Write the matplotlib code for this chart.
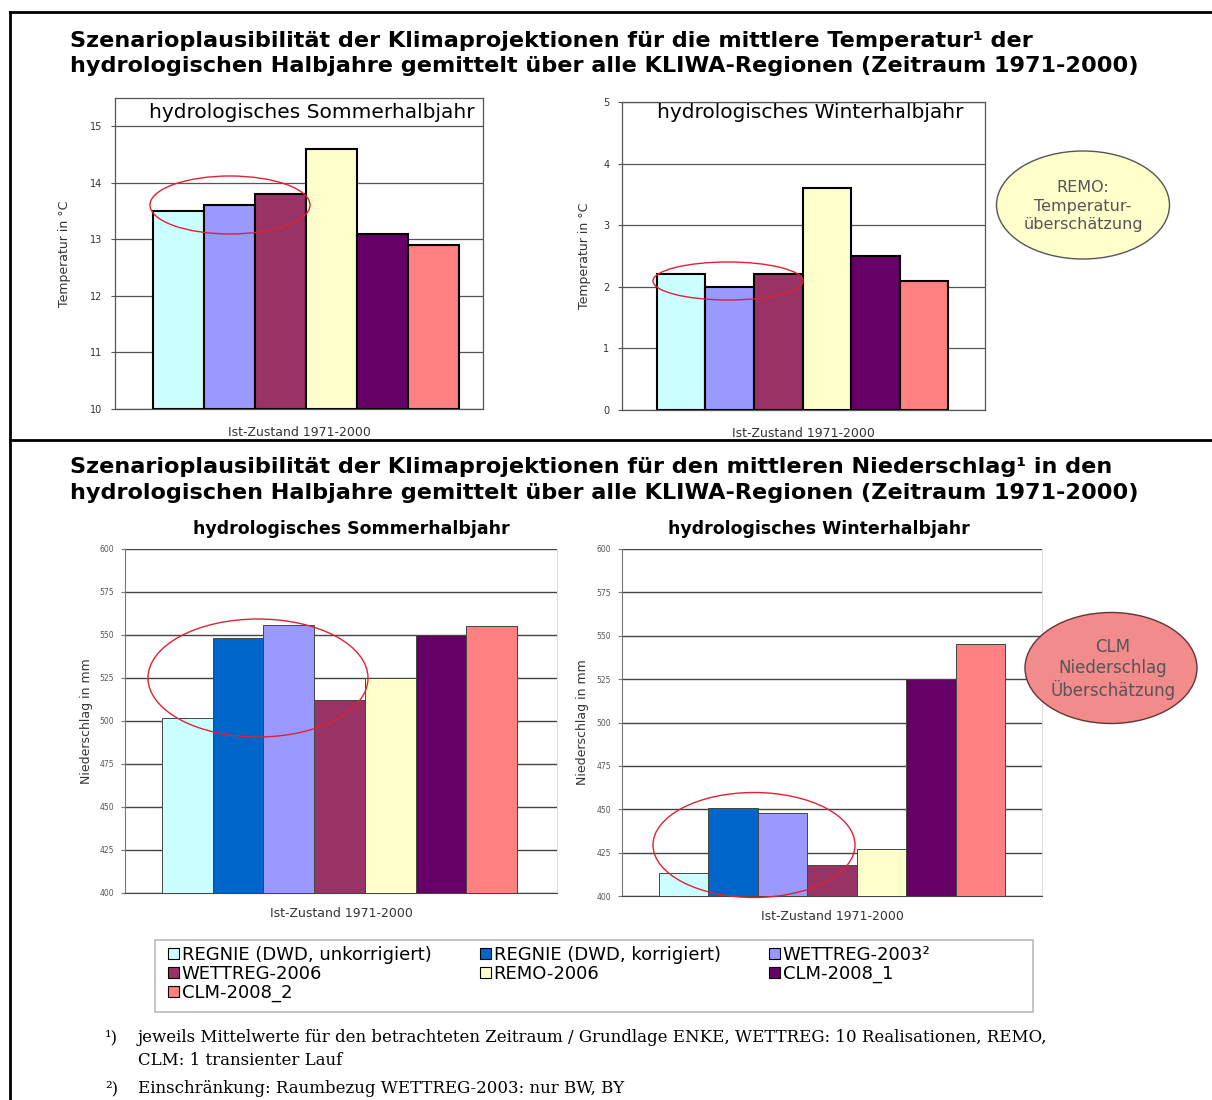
import matplotlib
matplotlib.use("Agg")
import matplotlib.pyplot as plt
from matplotlib.patches import Patch, Ellipse, Rectangle
from matplotlib.lines import Line2D

plt.rcParams['font.family'] = ['DejaVu Sans']

# Daten
modelle = ['REGNIE (DWD, unkorrigiert)', 'REGNIE (DWD, korrigiert)', 'WETTREG-2003²',
           'WETTREG-2006', 'REMO-2006', 'CLM-2008_1', 'CLM-2008_2']
farben = ['#CCFFFF', '#0066CC', '#9999FF', '#993366', '#FFFFCC', '#660066', '#FF8080']

# Temperatur: ohne REGNIE korrigiert
temp_idx = [0, 2, 3, 4, 5, 6]
temp_sommer = [13.5, 13.6, 13.8, 14.6, 13.1, 12.9]
temp_winter = [2.2, 2.0, 2.2, 3.6, 2.5, 2.1]

nied_sommer = [502, 548, 556, 512, 525, 550, 555]
nied_winter = [413, 451, 448, 418, 427, 525, 545]

temp_ticks = {'sommer': [10, 11, 12, 13, 14, 15], 'winter': [0, 1, 2, 3, 4, 5]}
nied_ticks = [400, 425, 450, 475, 500, 525, 550, 575, 600]

W, H = 1212, 1100
fig = plt.figure(figsize=(W / 100, H / 100), dpi=100)


def px(x, y):
    return x / W, 1 - y / H


def add_ax(l, t, r, b):
    x0, y1 = px(l, t)
    x1, y0 = px(r, b)
    return fig.add_axes([x0, y0, x1 - x0, y1 - y0])


def temp_chart(ax, werte, yticks, ylim, xlim, titel, titel_pos, ylabel_x):
    cols = [farben[i] for i in temp_idx]
    ax.bar(range(len(werte)), [w - ylim[0] for w in werte], bottom=ylim[0], width=1.0,
           color=cols, edgecolor='black', linewidth=1.5, zorder=3)
    ax.set_ylim(*ylim)
    ax.set_xlim(*xlim)
    ax.set_yticks(yticks)
    ax.set_yticklabels([str(t) for t in yticks], fontsize=7, color='#333333')
    ax.set_xticks([])
    ax.grid(axis='y', color='#555555', linewidth=0.9, zorder=0)
    for s in ax.spines.values():
        s.set_color('#555555')
        s.set_linewidth(0.9)
    ax.tick_params(axis='y', length=3, width=0.8, color='#555555', pad=6)
    ax.set_xlabel('Ist-Zustand 1971-2000', fontsize=9, color='#333333', labelpad=12)
    ax.set_ylabel('Temperatur in °C', fontsize=9, color='#333333')
    ax.yaxis.set_label_coords(ylabel_x, 0.5)
    ax.text(titel_pos[0], titel_pos[1], titel, transform=ax.transAxes, ha='center', va='center',
            fontsize=14.5, color='black', zorder=5)


def nied_chart(ax, werte, xlim, titel, titel_x, ylabel_x):
    ax.bar(range(len(werte)), [w - nied_ticks[0] for w in werte], bottom=nied_ticks[0], width=1.0,
           color=farben, edgecolor='#444444', linewidth=0.7, zorder=3)
    ax.set_ylim(nied_ticks[0], nied_ticks[-1])
    ax.set_xlim(*xlim)
    ax.set_yticks(nied_ticks)
    ax.set_yticklabels([str(t) for t in nied_ticks], fontsize=5.5, color='#555555')
    ax.set_xticks([])
    ax.grid(axis='y', color='#444444', linewidth=1.0, zorder=0)
    ax.spines['top'].set_visible(False)
    ax.spines['right'].set_color('#dddddd')
    ax.spines['left'].set_color('#777777')
    ax.spines['bottom'].set_color('#444444')
    ax.tick_params(axis='y', length=3, width=0.8, color='#777777', pad=5)
    ax.set_xlabel('Ist-Zustand 1971-2000', fontsize=9, color='#333333', labelpad=10)
    ax.set_ylabel('Niederschlag in mm', fontsize=9, color='#333333')
    ax.yaxis.set_label_coords(ylabel_x, 0.5)
    ax.set_title(titel, fontsize=12.5, fontweight='bold', pad=11, x=titel_x)


# obere Diagramme (Temperatur)
ax1 = add_ax(115, 98, 483, 409)
temp_chart(ax1, temp_sommer, temp_ticks['sommer'], (10, 15.5), (-1.25, 5.97),
           'hydrologisches Sommerhalbjahr', (0.535, 0.953), -0.12)
ax2 = add_ax(622, 102, 985, 410)
temp_chart(ax2, temp_winter, temp_ticks['winter'], (0, 5), (-1.22, 6.26),
           'hydrologisches Winterhalbjahr', (0.518, 0.965), -0.085)

# untere Diagramme (Niederschlag)
ax3 = add_ax(125, 549, 557, 893)
nied_chart(ax3, nied_sommer, (-1.23, 7.29), 'hydrologisches Sommerhalbjahr', 0.523, -0.074)
ax4 = add_ax(622, 549, 1042, 896)
nied_chart(ax4, nied_winter, (-1.25, 7.25), 'hydrologisches Winterhalbjahr', 0.469, -0.079)

# Überschriften
titel_temp = ['Szenarioplausibilität der Klimaprojektionen für die mittlere Temperatur¹ der',
              'hydrologischen Halbjahre gemittelt über alle KLIWA-Regionen (Zeitraum 1971-2000)']
titel_nied = ['Szenarioplausibilität der Klimaprojektionen für den mittleren Niederschlag¹ in den',
              'hydrologischen Halbjahre gemittelt über alle KLIWA-Regionen (Zeitraum 1971-2000)']
for i, t in enumerate(titel_temp):
    fig.text(*px(70, 47 + 25 * i), t, fontsize=16.1, fontweight='bold', va='baseline')
for i, t in enumerate(titel_nied):
    fig.text(*px(70, 473 + 26 * i), t, fontsize=16.1, fontweight='bold', va='baseline')

# Rahmen
for xs, ys in [((10, 1212), (12, 12)), ((10, 1212), (440, 440)), ((10, 10), (12, 1100))]:
    p0 = px(xs[0], ys[0])
    p1 = px(xs[1], ys[1])
    fig.add_artist(Line2D([p0[0], p1[0]], [p0[1], p1[1]], color='black', linewidth=2,
                          transform=fig.transFigure))

# rote Markierungen
for cx, cy, w, h in [(230, 205, 160, 58), (728, 281, 150, 38), (258, 678, 220, 118), (754, 845, 202, 105)]:
    fig.add_artist(Ellipse(px(cx, cy), w / W, h / H, transform=fig.transFigure,
                           facecolor='none', edgecolor='#dd2233', linewidth=1.0, zorder=6))

# Hinweis-Ellipsen
fig.add_artist(Ellipse(px(1083, 205), 173 / W, 108 / H, transform=fig.transFigure,
                       facecolor='#FFFFCC', edgecolor='#555555', linewidth=1.0))
fig.text(*px(1083, 206), 'REMO:\nTemperatur-\nüberschätzung', ha='center', va='center',
         fontsize=11.5, color='#555555', linespacing=1.25)
fig.add_artist(Ellipse(px(1111, 668), 172 / W, 111 / H, transform=fig.transFigure,
                       facecolor='#F28C8C', edgecolor='#663333', linewidth=1.0))
fig.text(*px(1113, 669), 'CLM\nNiederschlag\nÜberschätzung', ha='center', va='center',
         fontsize=12, color='#555555', linespacing=1.2)

# Legende (zeilenweise Reihenfolge)
lx0, ly0 = px(155, 1012)
lx1, ly1 = px(1033, 940)
fig.add_artist(Rectangle((lx0, ly0), lx1 - lx0, ly1 - ly0, transform=fig.transFigure,
                         facecolor='white', edgecolor='#bbbbbb', linewidth=1.2))
reihe = [0, 3, 6, 1, 4, 2, 5]
handles = [Patch(facecolor=farben[i], edgecolor='black', linewidth=0.8) for i in reihe]
labels = [modelle[i] for i in reihe]
fig.legend(handles, labels, loc='upper left', bbox_to_anchor=px(168, 946),
           ncol=3, fontsize=13, frameon=False, handlelength=0.6, handleheight=0.6,
           handletextpad=0.15, labelspacing=0.05, columnspacing=2.7, borderpad=0, borderaxespad=0)

# Fußnoten
serif = ['DejaVu Serif']
fig.text(*px(105, 1042), '¹)', fontsize=12, family=serif, va='baseline')
fig.text(*px(138, 1042), 'jeweils Mittelwerte für den betrachteten Zeitraum / Grundlage ENKE, WETTREG: 10 Realisationen, REMO,',
         fontsize=12, family=serif, va='baseline')
fig.text(*px(138, 1065), 'CLM: 1 transienter Lauf', fontsize=12, family=serif, va='baseline')
fig.text(*px(105, 1093), '²)', fontsize=12, family=serif, va='baseline')
fig.text(*px(138, 1093), 'Einschränkung: Raumbezug WETTREG-2003: nur BW, BY',
         fontsize=12, family=serif, va='baseline')

fig.savefig('out.png', dpi=100)
